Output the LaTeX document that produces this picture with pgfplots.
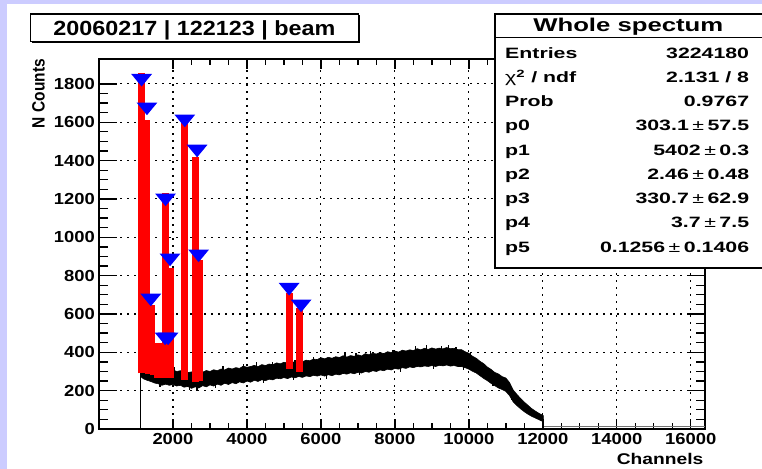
\documentclass[border=0pt]{standalone}
\usepackage{pgfplots}
\pgfplotsset{compat=1.18}
\usepackage{graphicx}
\usepackage{fontspec}
\setmainfont{Liberation Sans}
\definecolor{lav}{RGB}{204,204,255}
\newcommand{\sx}[2]{\scalebox{#1}[1]{#2}}
\pgfdeclareplotmark{itri}{%
  \pgfpathmoveto{\pgfpoint{-10.4bp}{6.3bp}}%
  \pgfpathlineto{\pgfpoint{10.4bp}{6.3bp}}%
  \pgfpathlineto{\pgfpoint{0bp}{-6.3bp}}%
  \pgfpathclose\pgfusepathqfill}
\begin{document}
\begin{tikzpicture}
\path[use as bounding box] (0,0) rectangle (762bp,469bp);
\fill[lav] (0,0) rectangle (762bp,469bp);
\fill[white] (6.7bp,0) rectangle (762bp,465bp);
\begin{axis}[
  at={(99bp,40bp)}, anchor=south west, scale only axis,
  width=606bp, height=370bp,
  xmin=0, xmax=16384, ymin=0, ymax=1930,
  scaled x ticks=false, scaled y ticks=false,
  axis line style={line width=2bp},
  tick align=inside,
  every tick/.style={black, line width=1.3bp},
  xtick style={/pgfplots/major tick length=10bp,/pgfplots/minor tick length=6bp},
  ytick style={/pgfplots/major tick length=18bp,/pgfplots/minor tick length=9bp},
  major tick length=18bp, minor tick length=9bp,
  xtick={2000,4000,6000,8000,10000,12000,14000,16000},
  ytick={0,200,400,600,800,1000,1200,1400,1600,1800},
  minor x tick num=3, minor y tick num=3,
  grid=major,
  major grid style={black, line width=1.1bp, dash pattern=on 2bp off 5bp},
  unbounded coords=jump,
  xticklabel={\sx{1.15}{\pgfmathprintnumber[assume math mode=true,set thousands separator={},fixed,precision=0]{\tick}}},
  yticklabel={\sx{1.15}{\pgfmathprintnumber[assume math mode=true,set thousands separator={},fixed,precision=0]{\tick}}},
  xticklabel style={font=\fontsize{16bp}{18bp}\selectfont\bfseries, inner sep=0pt, anchor=north, yshift=-4.5bp},
  yticklabel style={font=\fontsize{16bp}{18bp}\selectfont\bfseries, inner sep=0pt, anchor=east, xshift=-4bp},
]
% histogram band (upper envelope then lower envelope)
\addplot[fill=black, draw=black, line width=0.6bp] coordinates {
(1118,310)(1150,322)(1200,326)(1300,324)(1400,320)(1500,314)(1600,304)(1700,306)(1800,309)(1900,302)
(2000,308)(2100,300)(2200,304)(2300,296)(2400,294)(2500,298)(2600,290)(2700,298)(2800,296)(2900,305)
(3000,300)(3100,309)(3200,304)(3300,313)(3400,308)(3500,318)(3600,313)(3700,320)(3800,316)(3900,328)
(4000,322)(4100,326)(4200,332)(4300,325)(4400,336)(4500,331)(4600,339)(4700,335)(4800,345)(4900,340)
(5000,348)(5100,344)(5200,352)(5300,347)(5400,357)(5500,351)(5600,359)(5700,356)(5800,365)(5900,362)
(6000,372)(6100,366)(6200,374)(6300,369)(6400,377)(6500,373)(6600,382)(6700,375)(6800,383)(6900,379)
(7000,387)(7100,381)(7200,393)(7300,387)(7400,395)(7500,391)(7600,399)(7700,393)(7800,403)(7900,399)
(8000,407)(8100,401)(8200,411)(8300,407)(8400,413)(8500,409)(8600,419)(8700,413)(8800,421)(8900,415)
(9000,423)(9100,417)(9200,422)(9300,418)(9400,425)(9500,419)(9600,421)(9700,414)(9800,414)(9900,403)
(10000,395)(10100,379)(10200,369)(10300,353)(10400,341)(10500,323)(10600,311)(10700,295)(10800,287)(10900,273)
(11000,266)(11100,242)(11200,203)(11300,180)(11400,159)(11500,140)(11600,123)(11700,106)(11800,93)(11900,81)
(12000,71)(12015,69)
(12015,37)(12000,39)(11900,48)(11800,57)(11700,66)(11600,77)(11500,90)(11400,105)(11300,122)(11200,141)
(11100,174)(11000,196)(10900,206)(10800,214)(10700,226)(10600,238)(10500,252)(10400,264)(10300,278)(10200,292)
(10100,301)(10000,312)(9900,320)(9800,326)(9700,326)(9600,331)(9500,328)(9400,334)(9300,329)(9200,332)
(9100,326)(9000,331)(8900,326)(8800,329)(8700,324)(8600,326)(8500,320)(8400,324)(8300,316)(8200,320)
(8100,312)(8000,316)(7900,308)(7800,312)(7700,304)(7600,308)(7500,300)(7400,304)(7300,296)(7200,300)
(7100,292)(7000,296)(6900,288)(6800,293)(6700,286)(6600,290)(6500,282)(6400,286)(6300,278)(6200,283)
(6100,276)(6000,282)(5900,276)(5800,280)(5700,273)(5600,277)(5500,269)(5400,274)(5300,267)(5200,271)
(5100,263)(5000,268)(4900,262)(4800,265)(4700,256)(4600,260)(4500,252)(4400,257)(4300,248)(4200,254)
(4100,244)(4000,250)(3900,240)(3800,246)(3700,236)(3600,242)(3500,232)(3400,239)(3300,228)(3200,234)
(3100,224)(3000,230)(2900,220)(2800,226)(2700,214)(2600,220)(2500,212)(2400,222)(2300,218)(2200,228)
(2100,224)(2000,232)(1900,228)(1800,234)(1700,228)(1600,236)(1500,240)(1400,248)(1300,254)(1200,262)
(1150,270)(1118,280)
};
% noise spikes
\addplot[black, line width=1.2bp] coordinates {
(2050,300)(2050,322)(2051,nan)
(3350,308)(3350,330)(3351,nan)
(3900,320)(3900,340)(3901,nan)
(4250,326)(4250,352)(4251,nan)
(4700,330)(4700,350)(4701,nan)
(5300,345)(5300,362)(5301,nan)
(5800,358)(5800,378)(5801,nan)
(6650,372)(6650,396)(6651,nan)
(6950,378)(6950,398)(6951,nan)
(7350,385)(7350,408)(7351,nan)
(7950,395)(7950,414)(7951,nan)
(8550,410)(8550,434)(8551,nan)
(8850,414)(8850,438)(8851,nan)
(9250,415)(9250,432)(9251,nan)
(9450,418)(9450,436)(9451,nan)
(9650,412)(9650,430)(9651,nan)
(10050,385)(10050,402)(10051,nan)
(1650,240)(1650,218)(1651,nan)
(2450,226)(2450,205)(2451,nan)
(2650,224)(2650,200)(2651,nan)
(3150,234)(3150,212)(3151,nan)
(4450,260)(4450,240)(4451,nan)
(5250,275)(5250,254)(5251,nan)
(6150,284)(6150,262)(6151,nan)
(7050,300)(7050,280)(7051,nan)
(8150,318)(8150,298)(8151,nan)
(9050,334)(9050,312)(9051,nan)
(9850,330)(9850,310)(9851,nan)
(10650,244)(10650,226)(10651,nan)
(11150,170)(11150,150)
};
\addplot[black, line width=1.3bp] coordinates {(1115,0)(1115,300)};
\addplot[black!55, line width=1bp] coordinates {(12020,12)(16384,12)};
% peak markers
\addplot[only marks, mark=itri, color=blue] coordinates {
(1152,1819)(1297,1670)(1401,673)(1787,470)(1868,470)(1799,1195)(1920,882)
(2320,1607)(2652,1450)(2693,903)(5140,729)(5464,642)};
% fitted peaks
\addplot[red, line width=6.7bp] coordinates {(1143,290)(1143,1859)};
\addplot[red, line width=5.7bp] coordinates {(1311,285)(1311,1612)};
\addplot[red, line width=5bp] coordinates {(1454,280)(1454,647)};
\addplot[red, line width=7.7bp] coordinates {(1597,268)(1597,449)};
\addplot[red, line width=6.6bp] coordinates {(1792,268)(1792,1231)};
\addplot[red, line width=5bp] coordinates {(1949,265)(1949,840)};
\addplot[red, line width=7bp] coordinates {(2311,258)(2311,1612)};
\addplot[red, line width=7.3bp] coordinates {(2611,245)(2611,1420)};
\addplot[red, line width=3.5bp] coordinates {(2755,250)(2755,880)};
\addplot[red, line width=6.6bp] coordinates {(5143,313)(5143,711)};
\addplot[red, line width=7bp] coordinates {(5410,299)(5410,633)};
\end{axis}
% axis titles
\node[font=\fontsize{15.5bp}{18bp}\selectfont\bfseries, rotate=90, anchor=east, inner sep=0pt] at (38.5bp,410bp) {\scalebox{1}[1.15]{N Counts}};
\node[font=\fontsize{15.5bp}{18bp}\selectfont\bfseries, anchor=base east, inner sep=0pt] at (703.5bp,4.5bp) {\sx{1.24}{Channels}};
% title box
\fill[black] (32.2bp,425.8bp) rectangle (359.8bp,453.5bp);
\filldraw[fill=white, draw=black, line width=1.3bp] (30.7bp,427.3bp) rectangle (358.3bp,455bp);
\node[font=\fontsize{20.5bp}{24bp}\selectfont\bfseries, anchor=base, inner sep=0pt] at (194.5bp,433.7bp) {\sx{1.14}{20060217 | 122123 | beam}};
% stats box
\filldraw[fill=white, draw=black, line width=1.8bp] (495bp,201bp) rectangle (763bp,455bp);
\draw[line width=1.5bp] (495bp,431.7bp) -- (763bp,431.7bp);
\node[font=\fontsize{18.5bp}{22bp}\selectfont\bfseries, anchor=base, inner sep=0pt] at (628.3bp,437bp) {\sx{1.39}{Whole spectum}};
\begin{scope}[every node/.style={font=\fontsize{15bp}{18bp}\selectfont\bfseries, inner sep=0pt}]
\node[anchor=base west] at (505bp,410.7bp) {\sx{1.42}{Entries}};
\node[anchor=base east] at (749.3bp,410.7bp) {\sx{1.42}{3224180}};
\node[anchor=base west] at (505bp,386.5bp) {\sx{1.42}{{\mdseries χ}\textsuperscript{2} / ndf}};
\node[anchor=base east] at (749.3bp,386.5bp) {\sx{1.42}{2.131 / 8}};
\node[anchor=base west] at (505bp,362.2bp) {\sx{1.42}{Prob}};
\node[anchor=base east] at (749.3bp,362.2bp) {\sx{1.42}{0.9767}};
\node[anchor=base west] at (505bp,338bp) {\sx{1.42}{p0}};
\node[anchor=base east] at (749.3bp,338bp) {\sx{1.42}{303.1{\mdseries\,±\,}57.5}};
\node[anchor=base west] at (505bp,313.7bp) {\sx{1.42}{p1}};
\node[anchor=base east] at (749.3bp,313.7bp) {\sx{1.42}{5402{\mdseries\,±\,}0.3}};
\node[anchor=base west] at (505bp,289.5bp) {\sx{1.42}{p2}};
\node[anchor=base east] at (749.3bp,289.5bp) {\sx{1.42}{2.46{\mdseries\,±\,}0.48}};
\node[anchor=base west] at (505bp,265.2bp) {\sx{1.42}{p3}};
\node[anchor=base east] at (749.3bp,265.2bp) {\sx{1.42}{330.7{\mdseries\,±\,}62.9}};
\node[anchor=base west] at (505bp,241bp) {\sx{1.42}{p4}};
\node[anchor=base east] at (749.3bp,241bp) {\sx{1.42}{3.7{\mdseries\,±\,}7.5}};
\node[anchor=base west] at (505bp,216.7bp) {\sx{1.42}{p5}};
\node[anchor=base east] at (749.3bp,216.7bp) {\sx{1.42}{0.1256{\mdseries\,±\,}0.1406}};
\end{scope}
\end{tikzpicture}
\end{document}
